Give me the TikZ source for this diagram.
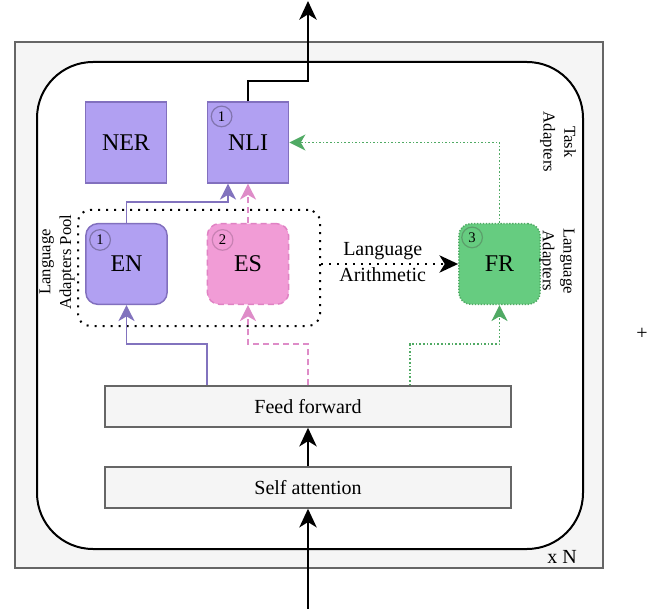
\documentclass[tikz,border=0pt]{standalone}
\usepackage{fontspec}
\setmainfont{Liberation Serif}
\usetikzlibrary{calc,arrows.meta}
\tikzset{
  block/.style={
    draw=blockline,
    fill=blockfill,
    line width=1.1pt,
    minimum width=304.5pt,
    minimum height=30.75pt,
    font=\fontsize{15}{18}\selectfont
  },
  adapter/.style={
    line width=1.1pt,
    minimum width=61pt,
    minimum height=60.5pt,
    inner sep=0pt,
    font=\fontsize{18}{21}\selectfont
  },
  task-box/.style={adapter, draw=enline, fill=enfill},
  lang-en/.style={adapter, draw=enline, fill=enfill, rounded corners=9pt},
  lang-es/.style={adapter, draw=esline, fill=esfill, rounded corners=9pt, dash pattern=on 4.5pt off 3pt},
  lang-fr/.style={adapter, draw=frline, fill=frfill, rounded corners=9pt, dash pattern=on 1pt off 1.2pt},
  badge/.style={circle, draw=#1, line width=0.9pt, minimum size=15.5pt, inner sep=0pt, font=\fontsize{11}{12}\selectfont},
  side-label/.style={align=center, font=\fontsize{12.5}{15.5}\selectfont},
  tip/.style={-{Stealth[length=14pt,width=13pt,inset=4pt]}},
  small-tip/.style={-{Stealth[length=12pt,width=12pt,inset=3.5pt]}},
  flow/.style={tip, line width=1.5pt, draw=black},
  edge-en/.style={small-tip, line width=1.3pt, draw=enedge},
  edge-es/.style={small-tip, line width=1.3pt, draw=esedge, dash pattern=on 4.5pt off 3pt},
  edge-fr/.style={small-tip, line width=1.3pt, draw=fredge, dash pattern=on 1.2pt off 1.5pt}
}
\definecolor{blockfill}{RGB}{245,245,245}
\definecolor{blockline}{RGB}{102,102,102}
\definecolor{enfill}{RGB}{177,160,242}
\definecolor{enline}{RGB}{130,112,190}
\definecolor{enedge}{RGB}{130,115,190}
\definecolor{esfill}{RGB}{241,156,214}
\definecolor{esline}{RGB}{224,130,196}
\definecolor{esedge}{RGB}{222,140,200}
\definecolor{frfill}{RGB}{102,204,128}
\definecolor{frline}{RGB}{80,170,100}
\definecolor{fredge}{RGB}{80,170,100}
\begin{document}
\begin{tikzpicture}[x=0.75pt, y=-0.75pt]
  \useasboundingbox (0,0) rectangle (670,609);

  % Layer frame
  \draw[draw=blockline, fill=blockfill, line width=1.1pt] (15,42) rectangle (603,568);
  \draw[fill=white, line width=1.5pt, rounded corners=42pt] (37,62) rectangle (583,549);
  \node[font=\fontsize{15}{18}\selectfont] (repeat) at (562,557) {x N};
  \node[font=\fontsize{15}{18}\selectfont] (plus) at (642,334) {+};

  % Transformer blocks
  \node[block] (ff) at (308,406.5) {Feed forward};
  \node[block] (sa) at (308,487.5) {Self attention};

  % Language adapters pool
  \node[draw, line width=1.5pt, rounded corners=9pt, dash pattern=on 1.5pt off 4.5pt,
        minimum width=181.5pt, minimum height=87pt] (pool) at (199,268) {};
  \node[side-label, rotate=90] (pool-label) at (57,262) {Language\\Adapters Pool};

  % Adapters
  \node[task-box] (ner) at (126,142.5) {NER};
  \node[task-box] (nli) at (248,142.5) {NLI};
  \node[lang-en] (en) at (126.5,264) {EN};
  \node[lang-es] (es) at (248,264) {ES};
  \node[lang-fr] (fr) at (499.5,264) {FR};
  \node[side-label, rotate=-90] (task-label) at (558,142) {Task\\Adapters};
  \node[side-label, rotate=-90] (lang-label) at (557,261) {Language\\Adapters};

  % Badges
  \node[badge=enline!75!gray] (b-nli) at ($(nli.north west)+(15,15)$) {1};
  \node[badge=enline!75!gray] (b-en) at ($(en.north west)+(15,17)$) {1};
  \node[badge=esline!75!gray] (b-es) at ($(es.north west)+(16,17)$) {2};
  \node[badge=frline!75!gray] (b-fr) at ($(fr.north west)+(14,14.5)$) {3};

  % Black flow
  \coordinate (input) at (308,609);
  \coordinate (output) at (308,1);
  \draw[flow] (input) -- (sa.south);
  \draw[flow] (sa.north) -- (ff.south);
  \draw[flow] (nli.north) -- ++(0,-20) -| (output);

  % EN route
  \draw[edge-en] ($(ff.north)+(-101,0)$) -- ++(0,-41) -| (en.south);
  \draw[edge-en] (en.north) -- ++(0,-21) -| ($(nli.south)+(-20,0)$);
  % ES route
  \draw[edge-es] (ff.north) -- ++(0,-41) -| (es.south);
  \draw[edge-es] (es.north) -- (nli.south);
  % FR route
  \draw[edge-fr] ($(ff.north)+(102,0)$) -- ++(0,-41) -| (fr.south);
  \draw[edge-fr] (fr.north) |- (nli.east);

  % Language arithmetic
  \draw[tip, line width=1.5pt, dash pattern=on 1.5pt off 4.5pt] (pool.east |- fr.west) -- (fr.west)
    node[pos=0.45, above=-1pt, font=\fontsize{15}{18}\selectfont] {Language}
    node[pos=0.45, below=-1pt, font=\fontsize{15}{18}\selectfont] {Arithmetic};
\end{tikzpicture}
\end{document}
